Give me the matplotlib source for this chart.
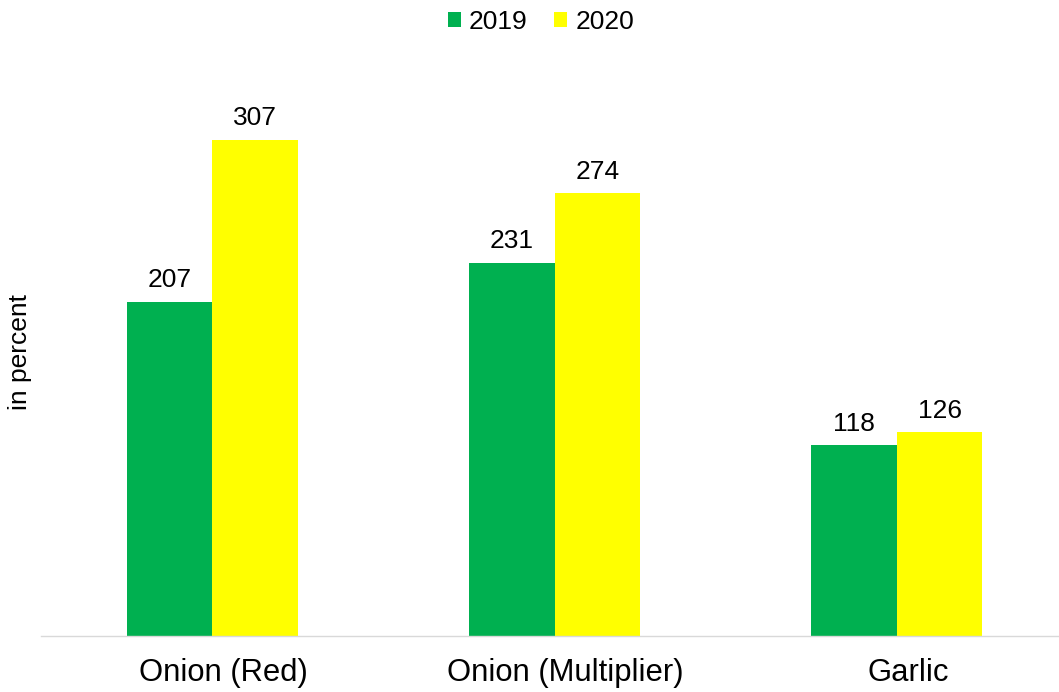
import matplotlib
matplotlib.use("Agg")
import matplotlib.pyplot as plt
import matplotlib.transforms as mtransforms
import numpy as np
from matplotlib.patches import Patch

categories = ["Onion (Red)", "Onion (Multiplier)", "Garlic"]
series_names = ["2019", "2020"]
values_2019 = [207, 231, 118]
values_2020 = [307, 274, 126]
colors = ["#00B050", "#FFFF00"]

plt.rcParams['font.family'] = ['Liberation Sans', 'DejaVu Sans']

W, H = 1059, 692
fig = plt.figure(figsize=(W / 100, H / 100), dpi=100)
left_px, right_px = 41, 1068
bottom_px, top_px = 636, 70.5
ax = fig.add_axes([left_px / W, 1 - bottom_px / H, (right_px - left_px) / W, (bottom_px - top_px) / H])

x = np.arange(len(categories))
bw = 0.25
b1 = ax.bar(x - bw / 2, values_2019, bw, color=colors[0], label=series_names[0])
b2 = ax.bar(x + bw / 2, values_2020, bw, color=colors[1], label=series_names[1])
for b in (b1, b2):
    ax.bar_label(b, padding=7, fontsize=19, color="#000000")

ax.set_xlim(-0.5, len(categories) - 0.5)
ax.set_ylim(0, 350)
ax.set_xticks(x)
ax.set_xticklabels(categories, fontsize=22.3, color="#000000")
ax.tick_params(axis='x', length=0, pad=16)
offset = mtransforms.ScaledTranslation(11 / 100, 0, fig.dpi_scale_trans)
for lbl in ax.get_xticklabels():
    lbl.set_transform(lbl.get_transform() + offset)
ax.set_yticks([])
for s in ("top", "right", "left"):
    ax.spines[s].set_visible(False)
ax.spines["bottom"].set_color("#D9D9D9")
ax.spines["bottom"].set_linewidth(1.0)

fig.text(20 / W, 1 - 352 / H, "in percent", rotation=90, fontsize=19,
         ha="center", va="center")

handles = [Patch(facecolor=c, edgecolor='none', label=n) for c, n in zip(colors, series_names)]
fig.legend(handles=handles, loc="center", bbox_to_anchor=(541 / W, 1 - 22 / H),
           ncol=2, frameon=False, fontsize=19, handlelength=0.5, handleheight=0.5,
           handletextpad=0.3, columnspacing=1.0)

fig.savefig("out.png", dpi=100)
